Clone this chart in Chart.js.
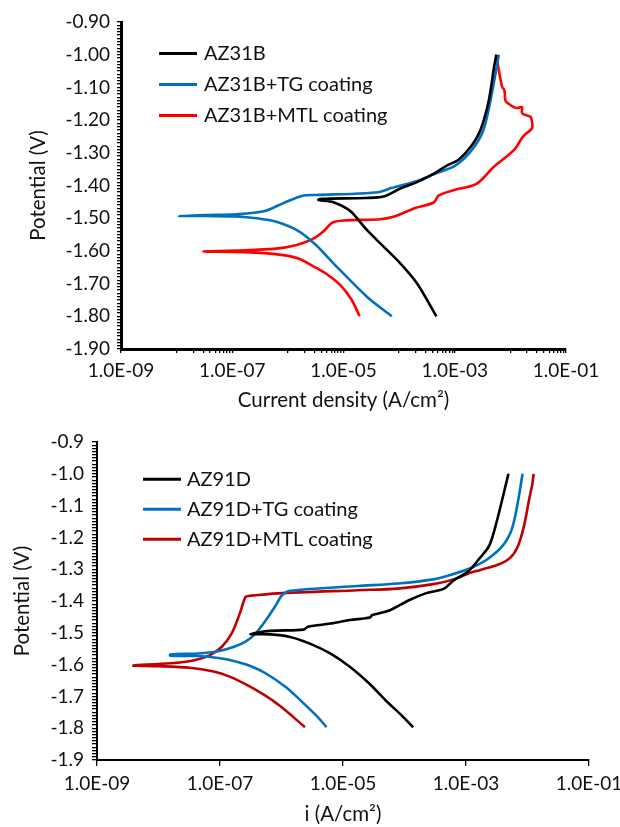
<!DOCTYPE html>
<html>
<head>
<meta charset="utf-8">
<script src="https://cdn.jsdelivr.net/npm/chart.js@4.4.1/dist/chart.umd.min.js"></script>
<style>
  body { margin: 0; background: #fff; }
  canvas { display: block; }
</style>
</head>
<body>
<canvas id="chartTop" width="620" height="415"></canvas>
<canvas id="chartBottom" width="620" height="412"></canvas>
<script>
// ---- top chart: AZ31B (current density A/cm2, potential V) ----
const az31bI = [4.68e-4, 2.09e-4, 1.05e-4, 5.25e-5, 2.63e-5, 1.32e-5, 6.6e-6, 3.55e-6,
  3.98e-6, 2.5e-5, 5.25e-5, 1.05e-4, 1.95e-4, 4.4e-4, 7.2e-4, 1.17e-3, 1.95e-3, 2.9e-3, 4.1e-3, 5.1e-3, 5.6e-3];
const az31bE = [-1.80, -1.699, -1.638, -1.587, -1.536, -1.478, -1.451, -1.444,
  -1.441, -1.438, -1.434, -1.409, -1.392, -1.362, -1.339, -1.321, -1.281, -1.230, -1.139, -1.037, -1.00];

const az31bTgI = [7.4e-5, 2.63e-5, 6.6e-6, 3.2e-6, 1.58e-6, 6.2e-7, 2.7e-7, 1.17e-7, 3.2e-8, 1.1e-8,
  3.2e-8, 1.17e-7, 3.7e-7, 8.5e-7, 1.78e-6, 3.2e-6, 1.6e-5, 4.4e-5, 7.2e-5, 1.95e-4, 4.4e-4, 1.0e-3, 1.95e-3, 3.2e-3, 4.4e-3, 6.2e-3];
const az31bTgE = [-1.80, -1.74, -1.638, -1.582, -1.540, -1.511, -1.500, -1.495, -1.493, -1.493,
  -1.490, -1.488, -1.479, -1.453, -1.432, -1.429, -1.425, -1.420, -1.408, -1.388, -1.364, -1.340, -1.295, -1.235, -1.139, -1.00];

const az31bMtlI = [1.95e-5, 1.38e-5, 8.7e-6, 5.1e-6, 3.3e-6, 1.62e-6, 8.3e-7, 3.2e-7, 1.17e-7, 3.0e-8,
  1.17e-7, 6.2e-7, 1.38e-6, 2.7e-6, 4.4e-6, 6.2e-6, 1.0e-5, 4.6e-5, 8.5e-5, 1.95e-4, 4.2e-4, 5.1e-4, 1.0e-3,
  2.45e-3, 5.1e-3, 1.17e-2, 1.7e-2, 2.45e-2, 2.45e-2, 2.3e-2, 1.62e-2, 1.62e-2, 1.26e-2, 8.5e-3, 8.1e-3,
  7.8e-3, 7.1e-3, 6.2e-3, 5.5e-3];
const az31bMtlE = [-1.80, -1.748, -1.704, -1.672, -1.653, -1.625, -1.613, -1.606, -1.603, -1.602,
  -1.599, -1.593, -1.583, -1.565, -1.540, -1.514, -1.507, -1.503, -1.494, -1.469, -1.452, -1.431, -1.413,
  -1.395, -1.342, -1.291, -1.250, -1.225, -1.205, -1.190, -1.179, -1.160, -1.163, -1.145, -1.139,
  -1.108, -1.098, -1.047, -1.00];

// ---- bottom chart: AZ91D ----
const az91dI = [1.38e-4, 8.9e-5, 4.9e-5, 2.75e-5, 1.29e-5, 6.2e-6, 2.9e-6, 1.38e-6, 6.5e-7, 3.1e-7,
  6.5e-7, 2.3e-6, 2.7e-6, 6.2e-6, 1.29e-5, 2.75e-5, 2.95e-5, 5.8e-5, 1.2e-4, 2.2e-4, 4.4e-4, 6.3e-4,
  1.07e-3, 1.66e-3, 2.4e-3, 3.2e-3, 4.1e-3, 4.9e-3];
const az91dE = [-1.797, -1.759, -1.712, -1.662, -1.607, -1.565, -1.534, -1.513, -1.505, -1.504,
  -1.494, -1.490, -1.481, -1.471, -1.460, -1.452, -1.445, -1.429, -1.397, -1.376, -1.361, -1.335,
  -1.308, -1.266, -1.225, -1.146, -1.062, -1.00];

const az91dTgI = [5.4e-6, 3.9e-6, 2.1e-6, 1.2e-6, 5.6e-7, 3.2e-7, 1.8e-7, 1.0e-7, 4.4e-8, 1.55e-8,
  1.55e-8, 4.4e-8, 9.3e-8, 1.7e-7, 2.6e-7, 3.8e-7, 5.6e-7, 8.1e-7, 1.02e-6, 1.38e-6, 1.74e-5, 7.8e-5,
  2.95e-4, 5.4e-4, 1.15e-3, 2.1e-3, 3.8e-3, 5.5e-3, 6.9e-3, 8.3e-3];
const az91dTgE = [-1.797, -1.765, -1.715, -1.672, -1.628, -1.605, -1.590, -1.580, -1.573, -1.572,
  -1.568, -1.565, -1.558, -1.544, -1.528, -1.502, -1.460, -1.413, -1.382, -1.368, -1.353, -1.345,
  -1.332, -1.319, -1.298, -1.272, -1.230, -1.177, -1.094, -1.00];

const az91dMtlI = [2.4e-6, 1.58e-6, 9.5e-7, 5.0e-7, 2.5e-7, 1.4e-7, 7.9e-8, 3.2e-8, 9.8e-9, 3.9e-9,
  1.55e-8, 3.8e-8, 6.9e-8, 1.07e-7, 1.55e-7, 2.1e-7, 2.6e-7, 3.0e-7, 8.7e-7, 1.74e-5, 7.8e-5, 2.95e-4,
  6.3e-4, 1.07e-3, 1.66e-3, 3.2e-3, 5.1e-3, 6.9e-3, 8.7e-3, 1.07e-2, 1.2e-2, 1.26e-2];
const az91dMtlE = [-1.797, -1.766, -1.730, -1.693, -1.660, -1.637, -1.622, -1.610, -1.605, -1.603,
  -1.596, -1.586, -1.570, -1.544, -1.502, -1.439, -1.387, -1.384, -1.376, -1.366, -1.361, -1.347,
  -1.332, -1.314, -1.303, -1.287, -1.266, -1.230, -1.167, -1.078, -1.031, -1.00];

// ticks / labels
const xMajorTicks = [1e-9, 1e-7, 1e-5, 1e-3, 1e-1];
const xTickLabels = ['1.0E-09', '1.0E-07', '1.0E-05', '1.0E-03', '1.0E-01'];
const topYLabels = ['-1.90', '-1.80', '-1.70', '-1.60', '-1.50', '-1.40', '-1.30', '-1.20', '-1.10', '-1.00', '-0.90'];
const bottomYLabels = ['-1.9', '-1.8', '-1.7', '-1.6', '-1.5', '-1.4', '-1.3', '-1.2', '-1.1', '-1.0', '-0.9'];

Chart.defaults.font.family = 'Lato';
Chart.defaults.color = '#111';

function pts(xs, ys) {
  return xs.map((x, k) => ({ x: x, y: ys[k] }));
}

function line(label, color, xs, ys) {
  return {
    label: label,
    data: pts(xs, ys),
    borderColor: color,
    backgroundColor: color,
    borderWidth: 2.6,
    pointRadius: 0,
    showLine: true,
    tension: 0.3
  };
}

// legend drawn inside the plot, top left
const inChartLegend = {
  id: 'inChartLegend',
  afterDraw(chart, args, opts) {
    const ctx = chart.ctx;
    ctx.save();
    ctx.font = opts.size + 'px Lato';
    ctx.textBaseline = 'middle';
    chart.data.datasets.forEach((ds, k) => {
      const y = opts.y + k * opts.rowGap;
      ctx.strokeStyle = ds.borderColor;
      ctx.lineWidth = 3;
      ctx.beginPath();
      ctx.moveTo(opts.x, y);
      ctx.lineTo(opts.x + opts.lineLen, y);
      ctx.stroke();
      ctx.fillStyle = '#111';
      ctx.fillText(ds.label, opts.x + opts.lineLen + opts.textGap, y);
    });
    ctx.restore();
  }
};

function logTicks(withMinor) {
  const vals = xMajorTicks.slice();
  if (withMinor) {
    [-8, -6, -4, -2].forEach(d => {
      for (let m = 1; m <= 9; m++) vals.push(m * Math.pow(10, d));
    });
  }
  return vals.sort((a, b) => a - b);
}

function xLabel(v) {
  const k = xMajorTicks.findIndex(t => Math.abs(Math.log10(t) - Math.log10(v)) < 1e-6);
  return k >= 0 ? xTickLabels[k] : '';
}

function makeChart(id, datasets, cfg) {
  return new Chart(document.getElementById(id), {
    type: 'scatter',
    data: { datasets: datasets },
    plugins: [inChartLegend],
    options: {
      responsive: false,
      animation: false,
      layout: { padding: { top: cfg.padTop, right: cfg.padRight, left: 0, bottom: 0 } },
      plugins: {
        legend: { display: false },
        tooltip: { enabled: false },
        inChartLegend: cfg.legend
      },
      scales: {
        x: {
          type: 'logarithmic',
          min: 1e-9,
          max: 1e-1,
          border: { color: '#000', width: cfg.axisWidth },
          grid: { display: true, drawOnChartArea: false, color: '#000', tickLength: cfg.xTickLen, lineWidth: 1.3 },
          ticks: {
            autoSkip: false,
            maxRotation: 0,
            padding: cfg.xTickPad,
            font: { size: 19 },
            color: '#111',
            callback: v => xLabel(v)
          },
          afterBuildTicks: s => { s.ticks = logTicks(cfg.xMinor).map(v => ({ value: v })); },
          afterFit: s => { s.height = cfg.xHeight; s.paddingLeft = 0; s.paddingRight = 0; },
          title: {
            display: true,
            text: cfg.xTitle,
            font: { size: 20.5 },
            color: '#111',
            padding: { top: 0, bottom: cfg.xTitlePad }
          }
        },
        y: {
          min: -1.9,
          max: -0.9,
          border: { color: '#000', width: cfg.axisWidth },
          grid: { display: true, drawOnChartArea: false, color: '#000', tickLength: cfg.yTickLen, lineWidth: 1.3 },
          ticks: {
            autoSkip: false,
            padding: cfg.yTickPad,
            font: { size: 19 },
            color: '#111',
            callback: (v, i) => (i % 10 === 0 ? cfg.yLabels[i / 10] : '')
          },
          afterBuildTicks: s => {
            const t = [];
            for (let k = 0; k <= 100; k++) t.push({ value: Math.round((-1.9 + k * 0.01) * 100) / 100 });
            s.ticks = t;
          },
          afterFit: s => { s.width = cfg.yWidth; s.paddingTop = 0; s.paddingBottom = 0; },
          title: {
            display: true,
            text: 'Potential (V)',
            font: { size: 20.5 },
            color: '#111',
            padding: { top: cfg.yTitlePad, bottom: 0 }
          }
        }
      }
    }
  });
}

makeChart('chartTop', [
  line('AZ31B', '#000000', az31bI, az31bE),
  line('AZ31B+TG coating', '#0070c0', az31bTgI, az31bTgE),
  line('AZ31B+MTL coating', '#ff0000', az31bMtlI, az31bMtlE)
], {
  padTop: 22, padRight: 54, yWidth: 121, xHeight: 66,
  axisWidth: 3, xTickLen: 4, yTickLen: 4, xTickPad: 6, yTickPad: 7, xMinor: true,
  xTitle: 'Current density (A/cm²)', xTitlePad: 2.7, yTitlePad: 25.7,
  yLabels: topYLabels,
  legend: { x: 159, y: 53.5, rowGap: 31, lineLen: 38, textGap: 7, size: 20 }
});

makeChart('chartBottom', [
  line('AZ91D', '#000000', az91dI, az91dE),
  line('AZ91D+TG coating', '#0070c0', az91dTgI, az91dTgE),
  line('AZ91D+MTL coating', '#c00000', az91dMtlI, az91dMtlE)
], {
  padTop: 27, padRight: 31, yWidth: 97, xHeight: 67,
  axisWidth: 2, xTickLen: 6, yTickLen: 5, xTickPad: 6, yTickPad: 8, xMinor: false,
  xTitle: 'i (A/cm²)', xTitlePad: 0, yTitlePad: 9.7,
  yLabels: bottomYLabels,
  legend: { x: 143, y: 64.3, rowGap: 30, lineLen: 38, textGap: 6, size: 20 }
});
</script>
</body>
</html>
